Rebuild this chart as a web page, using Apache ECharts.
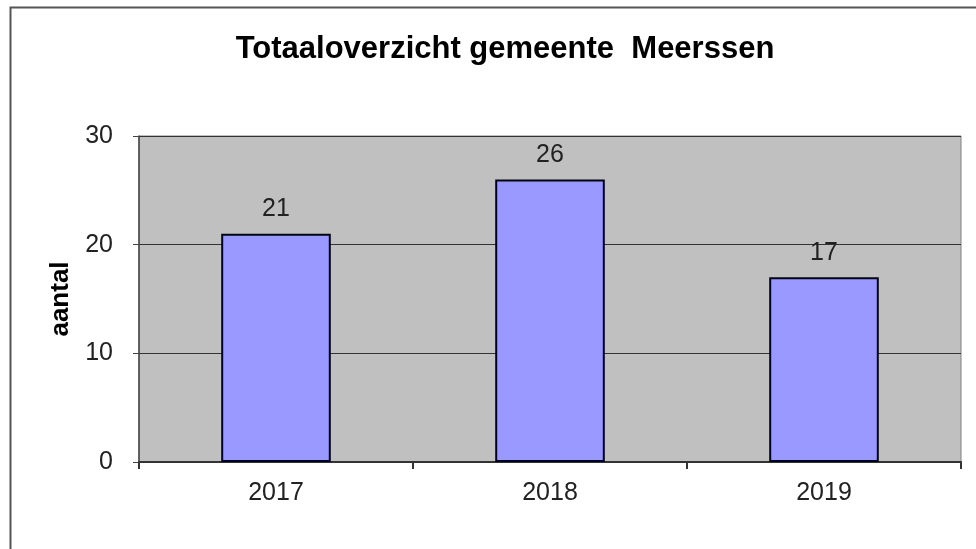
<!DOCTYPE html>
<html><head><meta charset="utf-8">
<script src="https://cdn.jsdelivr.net/npm/echarts@6/dist/echarts.min.js"></script>
<style>html,body{margin:0;padding:0;background:#fff}#c{width:976px;height:549px}</style>
</head><body><div id="c"></div>
<script>
const titleText = 'Totaaloverzicht gemeente  Meerssen';
const categories = ['2017', '2018', '2019'];
const values = [21, 26, 17];
const yAxisName = 'aantal';
const yTicks = {min: 0, max: 30, interval: 10};

const chart = echarts.init(document.getElementById('c'));
chart.setOption({
  animation: false,
  backgroundColor: '#ffffff',
  textStyle: {fontFamily: 'Liberation Sans, Arial, sans-serif'},
  graphic: [{
    type: 'rect', left: 8, top: 5, z: -10,
    shape: {width: 1000, height: 600},
    style: {fill: 'none', stroke: '#555', lineWidth: 2}
  }],
  title: {
    text: titleText, left: 500, top: 29, textAlign: 'center',
    textStyle: {fontSize: 31, fontWeight: 'bold', color: '#000', fontFamily: 'Liberation Sans, Arial, sans-serif'}
  },
  grid: {left: 139, right: 15, top: 136, bottom: 87, show: true, backgroundColor: '#c0c0c0', borderColor: '#808080', borderWidth: 1},
  xAxis: {
    type: 'category', data: categories,
    axisLine: {lineStyle: {color: '#333', width: 2}},
    axisTick: {show: true, length: 7, lineStyle: {color: '#333', width: 2}},
    axisLabel: {fontSize: 25, color: '#222', margin: 19}
  },
  yAxis: {
    type: 'value', min: yTicks.min, max: yTicks.max, interval: yTicks.interval,
    name: yAxisName, nameLocation: 'middle', nameGap: 64, nameRotate: 90,
    nameTextStyle: {fontSize: 26, fontWeight: 'bold', color: '#000'},
    axisLine: {show: true, lineStyle: {color: '#444', width: 1.5}},
    axisTick: {show: true, length: 6, lineStyle: {color: '#444'}},
    axisLabel: {fontSize: 25, color: '#222', margin: 26},
    splitLine: {lineStyle: {color: '#333', width: 1}}
  },
  series: [{
    type: 'bar', data: values, barWidth: '40%',
    itemStyle: {color: '#9999ff', borderColor: '#000022', borderWidth: 2},
    label: {show: true, position: 'top', fontSize: 25, color: '#222', distance: 12}
  }]
});
</script></body></html>
